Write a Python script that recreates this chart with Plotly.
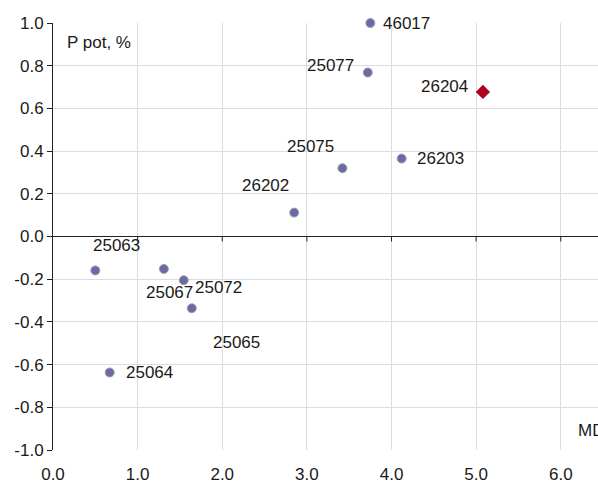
import plotly.graph_objects as go

# ---- data ----
labels = ["46017", "25077", "25075", "26203", "26202", "25063", "25067", "25072", "25065", "25064"]
md_vals = [3.75, 3.72, 3.42, 4.12, 2.85, 0.50, 1.31, 1.545, 1.64, 0.67]
ppot_vals = [1.00, 0.768, 0.32, 0.365, 0.112, -0.159, -0.152, -0.205, -0.336, -0.637]

hl_labels = ["26204"]
hl_md = [5.08]
hl_ppot = [0.677]

x_tickvals = [0, 1, 2, 3, 4, 5, 6]
x_ticktext = ["0.0", "1.0", "2.0", "3.0", "4.0", "5.0", "6.0"]
y_tickvals = [1.0, 0.8, 0.6, 0.4, 0.2, 0.0, -0.2, -0.4, -0.6, -0.8, -1.0]
y_ticktext = ["1.0", "0.8", "0.6", "0.4", "0.2", "0.0", "-0.2", "-0.4", "-0.6", "-0.8", "-1.0"]

# ---- label offsets (styling, in pixels) ----
label_offsets = {
    "46017": (36, 0), "25077": (-37, 7), "26204": (-38, 5), "25075": (-32, 22),
    "26203": (39, 0), "26202": (-29, 27), "25063": (21, 25), "25067": (6, -24),
    "25072": (35, -7), "25065": (45, -34), "25064": (40, 0),
}

FONT = "Arial, Liberation Sans, sans-serif"
TXT = "#1a1a1a"

fig = go.Figure()
fig.add_trace(go.Scatter(
    x=md_vals, y=ppot_vals, mode="markers",
    marker=dict(symbol="circle", size=9, color="#6a6aa6",
                line=dict(color="#a0a0a8", width=1)),
    showlegend=False, cliponaxis=False,
))
fig.add_trace(go.Scatter(
    x=hl_md, y=hl_ppot, mode="markers",
    marker=dict(symbol="diamond", size=11, color="#b0001e",
                line=dict(color="#b0001e", width=0)),
    showlegend=False, cliponaxis=False,
))

annotations = []
for lab, xv, yv in list(zip(labels, md_vals, ppot_vals)) + list(zip(hl_labels, hl_md, hl_ppot)):
    dx, dy = label_offsets[lab]
    annotations.append(dict(x=xv, y=yv, xref="x", yref="y", text=lab, showarrow=False,
                            xshift=dx, yshift=dy, font=dict(size=17, color=TXT, family=FONT)))

annotations.append(dict(xref="paper", yref="paper", x=(65 - 53) / 545, y=(450 - 42) / 427,
                        xanchor="left", yanchor="middle", text="P pot, %", showarrow=False,
                        font=dict(size=17, color=TXT, family=FONT)))
annotations.append(dict(xref="paper", yref="paper", x=(576 - 53) / 545, y=(450 - 430) / 427,
                        xanchor="left", yanchor="middle", text="MD", showarrow=False,
                        font=dict(size=17, color=TXT, family=FONT)))

# small tick marks on the zero line
shapes = []
for tv in x_tickvals[1:]:
    shapes.append(dict(type="line", xref="x", yref="y", ysizemode="pixel", yanchor=0,
                       x0=tv, x1=tv, y0=0, y1=-5, line=dict(color="#222222", width=1)))

fig.update_layout(
    width=598, height=484,
    margin=dict(l=53, r=0, t=23, b=34),
    paper_bgcolor="white", plot_bgcolor="white",
    font=dict(family=FONT, size=17, color=TXT),
    annotations=annotations, shapes=shapes,
    xaxis=dict(range=[0, 6.44], tickvals=x_tickvals, ticktext=x_ticktext,
               showgrid=True, gridcolor="#dcdcdc", gridwidth=1,
               zeroline=False, showline=False, ticks="", ticklabelstandoff=12,
               tickfont=dict(size=17, color=TXT, family=FONT)),
    yaxis=dict(range=[-1.0, 1.0], tickvals=y_tickvals, ticktext=y_ticktext,
               showgrid=True, gridcolor="#dcdcdc", gridwidth=1,
               zeroline=True, zerolinecolor="#222222", zerolinewidth=1,
               showline=True, linecolor="#222222", linewidth=1,
               ticks="outside", ticklen=5, tickcolor="#222222",
               tickfont=dict(size=17, color=TXT, family=FONT)),
)

fig.write_html("out.html",
               config={"displayModeBar": False},
               post_script="document.body.style.margin='0';document.body.style.overflow='hidden';")
